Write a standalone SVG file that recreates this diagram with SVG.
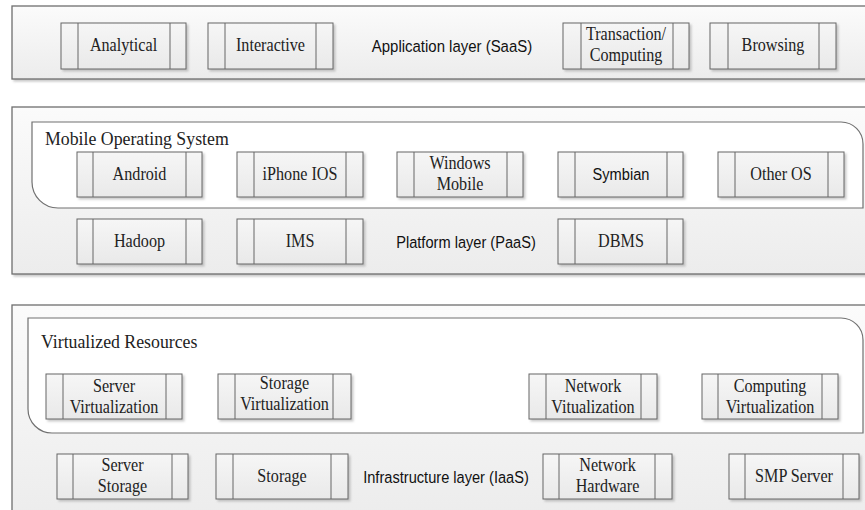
<svg xmlns="http://www.w3.org/2000/svg" width="865" height="510" viewBox="0 0 865 510">
<defs>
<linearGradient id="gLayer" x1="0" y1="0" x2="0" y2="1"><stop offset="0" stop-color="#fbfbfb"/><stop offset="1" stop-color="#ececec"/></linearGradient>
<linearGradient id="gBox" x1="0" y1="0" x2="0" y2="1"><stop offset="0" stop-color="#f6f6f6"/><stop offset="1" stop-color="#e9e9e9"/></linearGradient>
<filter id="sh" x="-10%" y="-10%" width="130%" height="140%"><feDropShadow dx="2" dy="2" stdDeviation="1.2" flood-color="#888" flood-opacity="0.45"/></filter>
</defs>
<style>
.layer{fill:url(#gLayer);stroke:#6e6e6e;stroke-width:1.3;filter:url(#sh)}
.cont{fill:#ffffff;stroke:#707070;stroke-width:1.2}
.box{fill:url(#gBox);stroke:#666;stroke-width:1;filter:url(#sh)}
.inner{stroke:#666;stroke-width:1;fill:none}
.lbl{font-family:"Liberation Serif","Times New Roman",serif;font-size:19px;fill:#222;text-anchor:middle}
.hdr{font-family:"Liberation Serif","Times New Roman",serif;font-size:17.8px;fill:#222}
.ly{font-family:"Liberation Sans",Arial,sans-serif;font-size:17px;fill:#111;text-anchor:middle}
</style>

<!-- Application layer -->
<g id="app-layer">
<rect class="layer" x="12" y="6" width="870" height="73"/>
<text class="ly" transform="translate(452,52) scale(0.88,1)">Application layer (SaaS)</text>
</g>
<g id="analytical"><rect class="box" x="61" y="23" width="125" height="46"/><path class="inner" d="M78,23V69M170,23V69"/><text class="lbl" transform="translate(123.5,51) scale(0.85,1)">Analytical</text></g>
<g id="interactive"><rect class="box" x="208" y="23" width="125" height="46"/><path class="inner" d="M225,23V69M316,23V69"/><text class="lbl" transform="translate(270.5,51) scale(0.85,1)">Interactive</text></g>
<g id="transaction"><rect class="box" x="563" y="23" width="126" height="46"/><path class="inner" d="M581,23V69M673,23V69"/><text class="lbl" transform="translate(626,40) scale(0.85,1)">Transaction/</text><text class="lbl" transform="translate(626,61) scale(0.85,1)">Computing</text></g>
<g id="browsing"><rect class="box" x="710" y="23" width="126" height="46"/><path class="inner" d="M728,23V69M819,23V69"/><text class="lbl" transform="translate(773,51) scale(0.85,1)">Browsing</text></g>

<!-- Platform layer -->
<g id="platform-layer">
<rect class="layer" x="12" y="107" width="870" height="167"/>
<text class="ly" transform="translate(466,248) scale(0.86,1)">Platform layer (PaaS)</text>
</g>
<g id="mobile-os">
<path class="cont" d="M32,122H841A22,22 0 0 1 863,144V208H58A26,26 0 0 1 32,182Z"/>
<text class="hdr" x="45" y="145">Mobile Operating System</text>
</g>
<g id="android"><rect class="box" x="77" y="152" width="125" height="45"/><path class="inner" d="M93,152V197M186,152V197"/><text class="lbl" transform="translate(139.5,180) scale(0.85,1)">Android</text></g>
<g id="iphone"><rect class="box" x="237" y="152" width="126" height="45"/><path class="inner" d="M254,152V197M346,152V197"/><text class="lbl" transform="translate(300,180) scale(0.85,1)">iPhone IOS</text></g>
<g id="windows-mobile"><rect class="box" x="397" y="152" width="126" height="45"/><path class="inner" d="M414,152V197M507,152V197"/><text class="lbl" transform="translate(460,169) scale(0.85,1)">Windows</text><text class="lbl" transform="translate(460,190) scale(0.85,1)">Mobile</text></g>
<g id="symbian"><rect class="box" x="558" y="152" width="125" height="45"/><path class="inner" d="M575,152V197M667,152V197"/><text class="ly" transform="translate(621,180) scale(0.86,1)">Symbian</text></g>
<g id="other-os"><rect class="box" x="718" y="152" width="126" height="45"/><path class="inner" d="M735,152V197M828,152V197"/><text class="lbl" transform="translate(781,180) scale(0.85,1)">Other OS</text></g>
<g id="hadoop"><rect class="box" x="77" y="219" width="125" height="45"/><path class="inner" d="M93,219V264M186,219V264"/><text class="lbl" transform="translate(139.5,247) scale(0.85,1)">Hadoop</text></g>
<g id="ims"><rect class="box" x="237" y="219" width="126" height="45"/><path class="inner" d="M254,219V264M346,219V264"/><text class="lbl" transform="translate(300,247) scale(0.85,1)">IMS</text></g>
<g id="dbms"><rect class="box" x="558" y="219" width="125" height="45"/><path class="inner" d="M575,219V264M667,219V264"/><text class="lbl" transform="translate(621,247) scale(0.85,1)">DBMS</text></g>

<!-- Infrastructure layer -->
<g id="infra-layer">
<rect class="layer" x="12" y="305" width="870" height="215"/>
<text class="ly" transform="translate(446,483) scale(0.86,1)">Infrastructure layer (IaaS)</text>
</g>
<g id="virtualized-resources">
<path class="cont" d="M28,318H841A22,22 0 0 1 863,340V433H52A24,24 0 0 1 28,409Z"/>
<text class="hdr" x="41" y="348">Virtualized Resources</text>
</g>
<g id="server-virt"><rect class="box" x="46" y="374" width="136" height="45"/><path class="inner" d="M63,374V419M166,374V419"/><text class="lbl" transform="translate(114,392) scale(0.85,1)">Server</text><text class="lbl" transform="translate(114,413) scale(0.85,1)">Virtualization</text></g>
<g id="storage-virt"><rect class="box" x="218" y="374" width="133" height="45"/><path class="inner" d="M235,374V419M333,374V419"/><text class="lbl" transform="translate(284.5,389) scale(0.85,1)">Storage</text><text class="lbl" transform="translate(284.5,410) scale(0.85,1)">Virtualization</text></g>
<g id="network-virt"><rect class="box" x="529" y="374" width="128" height="45"/><path class="inner" d="M546,374V419M641,374V419"/><text class="lbl" transform="translate(593,392) scale(0.85,1)">Network</text><text class="lbl" transform="translate(593,413) scale(0.85,1)">Vitualization</text></g>
<g id="computing-virt"><rect class="box" x="702" y="374" width="136" height="45"/><path class="inner" d="M718,374V419M822,374V419"/><text class="lbl" transform="translate(770,392) scale(0.85,1)">Computing</text><text class="lbl" transform="translate(770,413) scale(0.85,1)">Virtualization</text></g>
<g id="server-storage"><rect class="box" x="57" y="454" width="131" height="45"/><path class="inner" d="M73,454V499M172,454V499"/><text class="lbl" transform="translate(122.5,471) scale(0.85,1)">Server</text><text class="lbl" transform="translate(122.5,492) scale(0.85,1)">Storage</text></g>
<g id="storage"><rect class="box" x="216" y="454" width="132" height="45"/><path class="inner" d="M233,454V499M331,454V499"/><text class="lbl" transform="translate(282,482) scale(0.85,1)">Storage</text></g>
<g id="network-hardware"><rect class="box" x="543" y="454" width="129" height="45"/><path class="inner" d="M559,454V499M655,454V499"/><text class="lbl" transform="translate(607.5,471) scale(0.85,1)">Network</text><text class="lbl" transform="translate(607.5,492) scale(0.85,1)">Hardware</text></g>
<g id="smp-server"><rect class="box" x="729" y="454" width="130" height="45"/><path class="inner" d="M745,454V499M843,454V499"/><text class="lbl" transform="translate(794,482) scale(0.85,1)">SMP Server</text></g>
</svg>
